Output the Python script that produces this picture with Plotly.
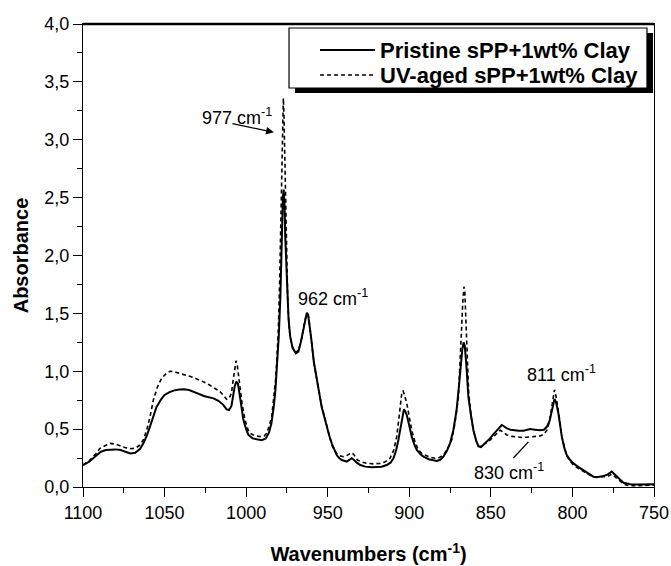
import plotly.graph_objects as go

# ---------------- data ----------------
wn_pristine = [1100, 1096, 1092, 1089, 1086, 1083, 1080, 1077, 1074, 1071, 1068, 1065, 1063, 1061, 1059,
               1057, 1055, 1052, 1050, 1047, 1044, 1041, 1038, 1035, 1032, 1029, 1026, 1023, 1020, 1017,
               1014, 1012, 1010.5, 1009, 1008, 1007, 1006, 1005, 1004, 1003, 1001.7, 1000, 998.6, 996,
               993, 990.5, 988, 986, 984.5, 983, 982, 981, 980, 979, 978.2, 977.5, 977, 976.5, 976, 975,
               974, 973, 971.5, 969.5, 968, 966.5, 965, 963.8, 962.8, 962, 961, 960, 958.5, 956.7, 955,
               953.7, 952, 950.6, 949, 947.5, 946, 944.5, 943, 941.4, 938.3, 936.5, 935.3, 934, 932.2,
               930, 927, 923, 920, 917, 913.8, 911.5, 909.7, 908, 906.7, 905.2, 904, 903.3, 902.5, 901.5,
               900, 898.5, 897, 895.4, 893, 891.3, 888, 885, 883.2, 881, 879.1, 877, 875, 873, 871,
               869.5, 868.5, 867.5, 866.7, 866, 865, 863.8, 862.2, 860.7, 859, 857.6, 856, 854.6, 852.5,
               850.5, 848.5, 846.4, 844.5, 843.3, 842, 840.2, 838, 836.2, 833, 830, 828, 825.9, 823,
               819.8, 817.5, 815.7, 814, 812.6, 811.6, 811, 810, 808.6, 807.5, 806.5, 805, 803.5, 801.5,
               799.4, 796, 793.3, 790, 787.1, 785, 783, 781, 778.9, 777.5, 775.9, 774.5, 772.8, 770.5,
               768.7, 766.5, 764.6, 760, 755, 750]
abs_pristine = [0.19, 0.22, 0.27, 0.305, 0.32, 0.325, 0.325, 0.32, 0.305, 0.29, 0.295, 0.33, 0.377, 0.44, 0.52,
                0.61, 0.69, 0.76, 0.795, 0.82, 0.835, 0.843, 0.844, 0.838, 0.824, 0.805, 0.786, 0.776, 0.766, 0.745,
                0.71, 0.67, 0.665, 0.70, 0.78, 0.87, 0.91, 0.89, 0.80, 0.70, 0.58, 0.50, 0.45, 0.42,
                0.41, 0.405, 0.42, 0.47, 0.55, 0.70, 0.85, 1.05, 1.30, 1.65, 2.15, 2.50, 2.57, 2.45, 2.15, 1.75,
                1.45, 1.30, 1.20, 1.155, 1.17, 1.25, 1.36, 1.46, 1.505, 1.49, 1.40, 1.27, 1.08, 0.92, 0.79,
                0.69, 0.60, 0.52, 0.44, 0.377, 0.32, 0.276, 0.25, 0.233, 0.219, 0.235, 0.248, 0.235, 0.21,
                0.19, 0.176, 0.17, 0.17, 0.175, 0.19, 0.21, 0.248, 0.32, 0.406, 0.54, 0.64, 0.67, 0.655, 0.62,
                0.53, 0.435, 0.37, 0.32, 0.28, 0.262, 0.24, 0.228, 0.225, 0.235, 0.262, 0.31, 0.377, 0.49, 0.665,
                0.88, 1.05, 1.19, 1.25, 1.22, 1.05, 0.78, 0.62, 0.49, 0.40, 0.35, 0.345, 0.363, 0.39,
                0.42, 0.455, 0.49, 0.525, 0.536, 0.525, 0.507, 0.495, 0.49, 0.487, 0.487, 0.493, 0.50, 0.495,
                0.49, 0.495, 0.52, 0.57, 0.665, 0.73, 0.76, 0.73, 0.636, 0.53, 0.435, 0.34, 0.276, 0.235,
                0.204, 0.17, 0.147, 0.115, 0.089, 0.085, 0.089, 0.095, 0.104, 0.12, 0.133, 0.115, 0.089, 0.06,
                0.037, 0.028, 0.023, 0.022, 0.022, 0.023]

wn_aged = [1100, 1096, 1092, 1089.6, 1086, 1083.4, 1080, 1077.3, 1074, 1071.2, 1068, 1065, 1063, 1061, 1059,
           1056.9, 1054.5, 1051.8, 1049, 1046.7, 1044, 1040.5, 1036, 1032.4, 1028, 1024.2, 1020, 1016, 1013.5,
           1011.9, 1010.5, 1009, 1008, 1007, 1006.2, 1005.5, 1004.5, 1003.7, 1002.5, 1000.7, 999, 997.6, 995,
           991.5, 989, 987.4, 986, 984.3, 983, 982, 981.3, 980.3, 979.5, 978.7, 978, 977.5, 977.2, 976.8,
           976.2, 975.5, 974.5, 973.5, 972, 970, 969, 967.5, 966, 964.5, 963.3, 962.6, 961.8, 961, 960,
           958.5, 956.7, 955, 953.7, 952, 950.6, 949, 947.5, 946, 944.5, 942.5, 940.4, 938.5, 936.5, 935.3,
           934, 931.8, 929, 926, 922, 918, 915, 911.8, 909.5, 907.7, 906.3, 905.3, 904.5, 903.8, 903, 901.5,
           900, 898.5, 896.5, 894.4, 892, 889.3, 886.5, 884.2, 881.5, 879.1, 877, 874, 872, 869.9, 868.8,
           868, 867.2, 866.5, 866, 865.3, 864.5, 863.6, 862.2, 860.7, 859, 857.6, 856, 854.6, 852.5, 850.5,
           848, 846, 844.3, 842.5, 840.2, 837, 834.1, 831, 828, 824, 819.8, 817.5, 815.7, 814, 812.6, 811.6,
           811, 810, 808.6, 807.5, 806.5, 805, 803.5, 801.5, 799.4, 796, 793.3, 790, 787.1, 783, 778.9,
           777.3, 775.9, 774.5, 772.8, 770.5, 768.7, 766.5, 764.6, 760, 755, 750]
abs_aged = [0.19, 0.23, 0.29, 0.334, 0.36, 0.377, 0.37, 0.354, 0.34, 0.33, 0.335, 0.363, 0.41, 0.49, 0.60,
            0.75, 0.86, 0.94, 0.98, 1.0, 0.995, 0.98, 0.965, 0.947, 0.92, 0.896, 0.86, 0.824, 0.785,
            0.757, 0.765, 0.81, 0.92, 1.04, 1.09, 1.06, 0.95, 0.88, 0.72, 0.58, 0.50, 0.464, 0.445,
            0.435, 0.44, 0.464, 0.52, 0.61, 0.77, 0.92, 1.07, 1.35, 1.75, 2.35, 2.95, 3.30, 3.36, 3.20,
            2.75, 2.15, 1.60, 1.35, 1.22, 1.17, 1.165, 1.20, 1.28, 1.40, 1.48, 1.495, 1.47, 1.39, 1.26,
            1.08, 0.93, 0.80, 0.70, 0.61, 0.53, 0.44, 0.363, 0.32, 0.29, 0.27, 0.262, 0.27, 0.29, 0.297,
            0.28, 0.233, 0.215, 0.204, 0.20, 0.204, 0.215, 0.248, 0.32, 0.435, 0.60, 0.75, 0.825, 0.83, 0.80, 0.72,
            0.60, 0.49, 0.39, 0.32, 0.285, 0.268, 0.255, 0.248, 0.255, 0.276, 0.32, 0.406, 0.55, 0.78, 1.05,
            1.35, 1.60, 1.73, 1.70, 1.45, 1.10, 0.82, 0.62, 0.49, 0.40, 0.355, 0.35, 0.365, 0.38, 0.406,
            0.44, 0.47, 0.49, 0.475, 0.45, 0.437, 0.43, 0.428, 0.43, 0.435, 0.44, 0.455, 0.49, 0.57, 0.694, 0.80,
            0.84, 0.78, 0.665, 0.55, 0.435, 0.34, 0.268, 0.225, 0.19, 0.158, 0.132, 0.108, 0.089, 0.086, 0.089,
            0.10, 0.112, 0.095, 0.075, 0.048, 0.026, 0.015, 0.01, 0.012, 0.015, 0.017]

series_names = ["Pristine sPP+1wt% Clay", "UV-aged sPP+1wt% Clay"]

x_ticks = [1100, 1050, 1000, 950, 900, 850, 800, 750]
y_ticks = [0.0, 0.5, 1.0, 1.5, 2.0, 2.5, 3.0, 3.5, 4.0]
y_tick_text = ["0,0", "0,5", "1,0", "1,5", "2,0", "2,5", "3,0", "3,5", "4,0"]

peak_labels = ["977 cm<sup>-1</sup>", "962 cm<sup>-1</sup>", "811 cm<sup>-1</sup>", "830 cm<sup>-1</sup>"]
peak_label_x = [1028.0, 969.5, 829.0, 861.5]
peak_label_y = [3.20, 1.64, 0.98, 0.13]

FONT = "Liberation Sans, Arial, sans-serif"
line_styles = [dict(color="black", width=2.0), dict(color="black", width=1.6, dash="4px,3px")]

fig = go.Figure()
fig.add_trace(go.Scatter(x=wn_pristine, y=abs_pristine, mode="lines", name=series_names[0],
                         line=line_styles[0], showlegend=False))
fig.add_trace(go.Scatter(x=wn_aged, y=abs_aged, mode="lines", name=series_names[1],
                         line=line_styles[1], showlegend=False))

annotations = []
for txt, ax_, ay_ in zip(peak_labels, peak_label_x, peak_label_y):
    annotations.append(dict(x=ax_, y=ay_, xref="x", yref="y", text=txt, showarrow=False,
                            xanchor="left", yanchor="middle",
                            font=dict(family=FONT, size=18, color="black")))
# arrow pointing to the 977 peak
annotations.append(dict(x=983.0, y=3.064, xref="x", yref="y", ax=1009.3, ay=3.142,
                        axref="x", ayref="y", text="", showarrow=True, arrowhead=2,
                        arrowsize=1.2, arrowwidth=1.3, arrowcolor="black"))

# ---- framed legend with drop shadow (paper coordinates) ----
legend_rows_y = [0.9438, 0.8898]
for name, ly in zip(series_names, legend_rows_y):
    annotations.append(dict(x=0.5166, y=ly, xref="paper", yref="paper", text="<b>" + name + "</b>",
                            showarrow=False, xanchor="left", yanchor="middle",
                            font=dict(family=FONT, size=22, color="black")))

shapes = [
    # leader line of the 830 label
    dict(type="line", xref="x", yref="y", x0=836.2, y0=0.25, x1=827.0, y1=0.39,
         line=dict(color="black", width=1.3)),
    # legend shadow and box
    dict(type="rect", xref="paper", yref="paper", x0=0.3713, x1=0.9982, y0=0.851, y1=0.9806,
         fillcolor="black", line=dict(width=0), layer="above"),
    dict(type="rect", xref="paper", yref="paper", x0=0.3608, x1=0.9877, y0=0.8618, y1=0.9914,
         fillcolor="white", line=dict(color="black", width=1.2), layer="above"),
    # thicker top frame line
    dict(type="line", xref="paper", yref="paper", x0=0, x1=1, y0=1, y1=1,
         line=dict(color="black", width=2.4), layer="above"),
]
for st, ly in zip(line_styles, legend_rows_y):
    shapes.append(dict(type="line", xref="paper", yref="paper", x0=0.4151, x1=0.5114, y0=ly, y1=ly,
                       line=st, layer="above"))

fig.update_layout(
    width=671, height=566,
    margin=dict(l=83, r=17, t=24, b=79),
    paper_bgcolor="white", plot_bgcolor="white",
    font=dict(family=FONT, color="black", size=18),
    showlegend=False,
    annotations=annotations,
    shapes=shapes,
)

fig.update_xaxes(
    range=[1100, 750], autorange=False,
    tickvals=x_ticks, ticks="outside", ticklen=9, tickwidth=1.3, tickcolor="black",
    showline=True, linecolor="black", linewidth=1.3, mirror=True,
    showgrid=False, zeroline=False, automargin=False,
    tickfont=dict(family=FONT, size=18, color="black"),
    minor=dict(ticks="outside", dtick=25, tick0=1100, ticklen=5, tickwidth=1.1, tickcolor="black"),
    title=dict(text="<b>Wavenumbers (cm<sup>-1</sup>)</b>", standoff=25,
               font=dict(family=FONT, size=20, color="black")),
)
fig.update_yaxes(
    range=[0, 4], autorange=False,
    tickvals=y_ticks, ticktext=y_tick_text, ticks="outside", ticklen=9, tickwidth=1.3, tickcolor="black",
    showline=True, linecolor="black", linewidth=1.3, mirror=True,
    showgrid=False, zeroline=False, automargin=False,
    tickfont=dict(family=FONT, size=18, color="black"),
    minor=dict(ticks="outside", dtick=0.25, tick0=0, ticklen=5, tickwidth=1.1, tickcolor="black"),
    title=dict(text="<b>Absorbance</b>", standoff=10,
               font=dict(family=FONT, size=20, color="black")),
)

fig.write_html("out.html", config={"displayModeBar": False},
               post_script="document.body.style.margin='0px';")
